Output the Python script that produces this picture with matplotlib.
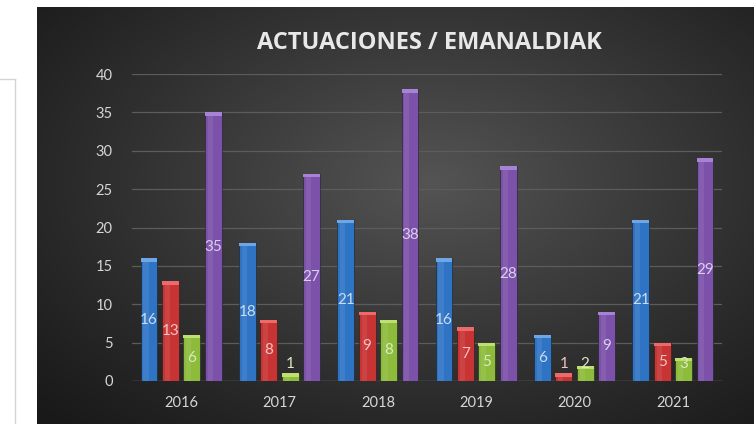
import numpy as np
import matplotlib.pyplot as plt

years = ["2016", "2017", "2018", "2019", "2020", "2021"]
serie_azul = [16, 18, 21, 16, 6, 21]
serie_roja = [13, 8, 9, 7, 1, 5]
serie_verde = [6, 1, 8, 5, 2, 3]
serie_morada = [35, 27, 38, 28, 9, 29]

series = [serie_azul, serie_roja, serie_verde, serie_morada]
colors = ["#2f74c4", "#c83434", "#8dbb3c", "#7b51aa"]
cap_colors = ["#6fa6e6", "#ec6a6a", "#bde070", "#a683d4"]
label_colors = ["#c9dcf2", "#f2c2c2", "#dbeabf", "#dccfee"]

plt.rcParams["font.family"] = ["Lato", "DejaVu Sans"]

W, H = 754, 424
fig = plt.figure(figsize=(W / 100, H / 100), dpi=100)
fig.patch.set_facecolor("white")

# left light box border
fig.add_artist(plt.Line2D([14.5 / W, 14.5 / W], [0, 1 - 79 / H], color="#d4d4d4", lw=1))
fig.add_artist(plt.Line2D([0, 14.5 / W], [1 - 79 / H, 1 - 79 / H], color="#d4d4d4", lw=1))

# dark panel with radial gradient
bg = fig.add_axes([37 / W, 0, 1 - 37 / W, 1 - 7 / H])
yy, xx = np.mgrid[0:1:300j, 0:1:500j]
r = np.sqrt(((xx - 0.55) / 0.75) ** 2 + ((yy - 0.42) / 0.8) ** 2)
shade = np.clip(1 - r, 0, 1)
lo, hi = np.array([0.10, 0.10, 0.10]), np.array([0.33, 0.33, 0.33])
img = lo + (hi - lo) * shade[..., None] ** 1.1
bg.imshow(img, aspect="auto", extent=[0, 1, 0, 1], origin="upper")
bg.axis("off")

ax = fig.add_axes([132 / W, 1 - 381 / H, 590 / W, (381 - 74) / H])
ax.set_facecolor("none")
x = np.arange(len(years))
width = 0.172
step = 0.218
offsets = [-1.5 * step, -0.5 * step, 0.5 * step, 1.5 * step]

for vals, off, c, cc, lc in zip(series, offsets, colors, cap_colors, label_colors):
    ax.bar(x + off, vals, width, color=c, edgecolor="#1e1e1e", linewidth=0.4, zorder=3)
    # lighter strip for a rounded look
    ax.bar(x + off - width * 0.18, vals, width * 0.3, color="white", alpha=0.08, zorder=4)
    # bevel cap on top
    cap = [min(0.45, v * 0.5) for v in vals]
    ax.bar(x + off, cap, width, bottom=np.array(vals) - np.array(cap), color=cc, zorder=5)
    for xi, v in zip(x + off, vals):
        ax.text(xi, max(v / 2, 2.2), str(v), ha="center", va="center",
                color=lc, fontsize=11, zorder=6)

ax.set_xlim(-0.5, len(years) - 0.5)
ax.set_ylim(0, 40)
ax.set_yticks(range(0, 41, 5))
ax.set_xticks(x)
ax.set_xticklabels(years)
ax.grid(axis="y", color="#5c5c5c", lw=0.9, zorder=1)
ax.tick_params(length=0, colors="#d6d6d6", labelsize=10.5)
ax.tick_params(axis="y", pad=14)
ax.tick_params(axis="x", pad=11)
for s in ax.spines.values():
    s.set_visible(False)
ax.axhline(0, color="#5c5c5c", lw=1, zorder=2)

fig.text(429 / W, 1 - 43 / H, "ACTUACIONES / EMANALDIAK", ha="center", va="center",
         color="#e8e8e8", fontsize=17, fontweight="bold", family="Open Sans")

plt.savefig("out.png", dpi=100)
